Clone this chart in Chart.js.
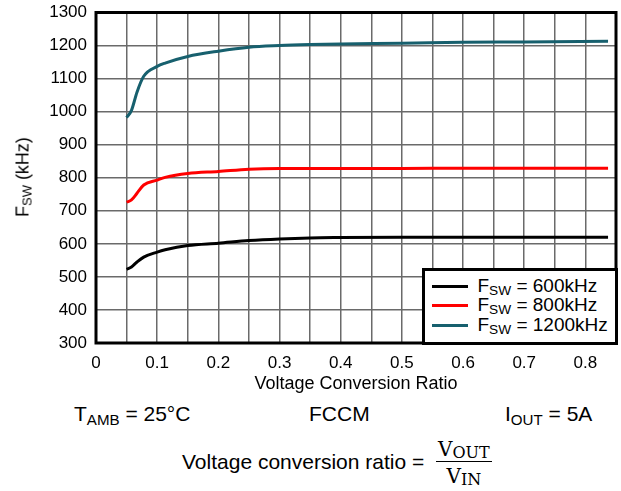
<!DOCTYPE html>
<html>
<head>
<meta charset="utf-8">
<script src="https://cdn.jsdelivr.net/npm/chart.js@4.4.1/dist/chart.umd.min.js"></script>
<style>
  body { margin: 0; background: #fff; font-family: 'Liberation Sans', Arial, sans-serif; color: #000; }
  #wrap { position: relative; width: 621px; height: 491px; overflow: hidden; }
  #chart { position: absolute; left: 0; top: 0; }
  .txt { position: absolute; white-space: nowrap; line-height: 24px; }
  sub { font-size: 0.72em; vertical-align: -0.25em; line-height: 0; }
  #ytitle { position: absolute; left: 23px; top: 177px; font-size: 18px; white-space: nowrap;
            transform: translate(-50%, -50%) rotate(-90deg); }
  #legend { position: absolute; width: 190px; height: 71px; border: 3px solid #000; background: #fff; }
  .item { position: absolute; left: 0; height: 20px; width: 190px; font-size: 19px; }
  .swatch { position: absolute; left: 7px; top: 9px; width: 36px; height: 3px; }
  .label { position: absolute; left: 53px; top: 0; line-height: 20px; white-space: nowrap; }
  .row1 { font-size: 21px; top: 402px; }
  .row2 { font-size: 21px; top: 450px; left: 182px; }
  #frac { position: absolute; left: 436px; top: 437px; font-family: 'DejaVu Serif', serif; font-size: 20px; text-align: center; }
  #frac .num { line-height: 24px; border-bottom: 1.5px solid #000; padding: 0 2px; }
  #frac .den { line-height: 28px; }
  #frac sub { font-size: 0.8em; vertical-align: -0.15em; }
</style>
</head>
<body>
<div id="wrap">
  <canvas id="chart" width="621" height="400"></canvas>
  <div id="ytitle">F<sub>SW</sub> (kHz)</div>
  <div id="legend"></div>
  <div class="txt row1" style="left:74px">T<sub>AMB</sub> = 25°C</div>
  <div class="txt row1" style="left:309px">FCCM</div>
  <div class="txt row1" style="left:505px">I<sub>OUT</sub> = 5A</div>
  <div class="txt row2">Voltage conversion ratio =</div>
  <div id="frac">
    <div class="num">V<sub>OUT</sub></div>
    <div class="den">V<sub>IN</sub></div>
  </div>
</div>
<script>
// Voltage conversion ratio (VOUT / VIN) sample points
const ratio = [0.05, 0.058, 0.067, 0.078, 0.1, 0.113, 0.15, 0.2, 0.25, 0.3, 0.35, 0.4, 0.5, 0.6, 0.7, 0.837];

// Measured switching frequency (kHz) for each setting
const fsw600 = [523, 530, 545, 560, 575, 582, 595, 602, 610, 615, 618, 619, 620, 620, 620, 620];
const fsw800 = [726, 733, 753, 778, 793, 801, 813, 819, 826, 828, 828, 828, 828, 829, 829, 829];
const fsw1200 = [982, 1004, 1059, 1107, 1137, 1147, 1167, 1183, 1195, 1200, 1203, 1205, 1207, 1210, 1211, 1213];

const settings = [600, 800, 1200];
const colors = ['#000000', '#ff0000', '#17606e'];
const series = [fsw600, fsw800, fsw1200];

const xTickLabels = ['0', '0.1', '0.2', '0.3', '0.4', '0.5', '0.6', '0.7', '0.8'];
const yTicks = [300, 400, 500, 600, 700, 800, 900, 1000, 1100, 1200, 1300];

const FONT = "'Liberation Sans', Arial, sans-serif";

const datasets = series.map((vals, i) => ({
    label: 'FSW = ' + settings[i] + 'kHz',
    data: vals.map((v, j) => ({ x: ratio[j], y: v })),
    borderColor: colors[i],
    borderWidth: 3,
    pointRadius: 0,
    fill: false,
    tension: 0.3,
    cubicInterpolationMode: 'monotone'
}));

// Heavy black frame round the plot area
const framePlugin = {
    id: 'frame',
    beforeDatasetsDraw(chart) {
        const { ctx, chartArea: a } = chart;
        ctx.save();
        ctx.strokeStyle = '#000';
        ctx.lineWidth = 3;
        ctx.strokeRect(a.left, a.top, a.right - a.left, a.bottom - a.top);
        ctx.restore();
    }
};

const chart = new Chart(document.getElementById('chart').getContext('2d'), {
    type: 'line',
    data: { datasets },
    options: {
        responsive: false,
        animation: false,
        layout: { padding: { top: 12.5, right: 5, left: 0, bottom: 0 } },
        plugins: { legend: { display: false }, tooltip: { enabled: false } },
        scales: {
            x: {
                type: 'linear',
                min: 0,
                max: 0.85,
                afterFit(scale) {
                    scale.height = 57;
                    scale.paddingLeft = 0;
                    scale.paddingRight = 0;
                },
                ticks: {
                    stepSize: 0.05,
                    autoSkip: false,
                    maxRotation: 0,
                    padding: 10,
                    color: '#000',
                    font: { family: FONT, size: 17 },
                    callback(value) {
                        const k = Math.round(value * 100);
                        return k % 10 === 0 ? xTickLabels[k / 10] : '';
                    }
                },
                grid: { color: '#6a6a6a', lineWidth: 1.5, drawTicks: false },
                border: { display: false },
                title: {
                    display: true,
                    text: 'Voltage Conversion Ratio',
                    color: '#000',
                    font: { family: FONT, size: 18 },
                    padding: { top: 0, bottom: 5 }
                }
            },
            y: {
                min: yTicks[0],
                max: yTicks[yTicks.length - 1],
                afterFit(scale) {
                    scale.width = 96;
                    scale.paddingTop = 0;
                    scale.paddingBottom = 0;
                },
                afterBuildTicks(scale) { scale.ticks = yTicks.map(v => ({ value: v })); },
                ticks: {
                    padding: 9,
                    color: '#000',
                    font: { family: FONT, size: 17 },
                    callback(value) { return String(value); }
                },
                grid: { color: '#6a6a6a', lineWidth: 1.5, drawTicks: false },
                border: { display: false }
            }
        }
    },
    plugins: [framePlugin]
});

// Legend box in the lower right corner of the plot
const legend = document.getElementById('legend');
const area = chart.chartArea;
legend.style.left = (area.right + 1.5 - 196) + 'px';
legend.style.top = (area.bottom + 1.5 - 77) + 'px';
const rowTops = [5, 24.7, 44.4];
settings.forEach((f, i) => {
    const item = document.createElement('div');
    item.className = 'item';
    item.style.top = rowTops[i] + 'px';
    item.innerHTML = '<div class="swatch" style="background:' + colors[i] + '"></div>' +
        '<div class="label">F<sub>SW</sub> = ' + f + 'kHz</div>';
    legend.appendChild(item);
});
</script>
</body>
</html>
